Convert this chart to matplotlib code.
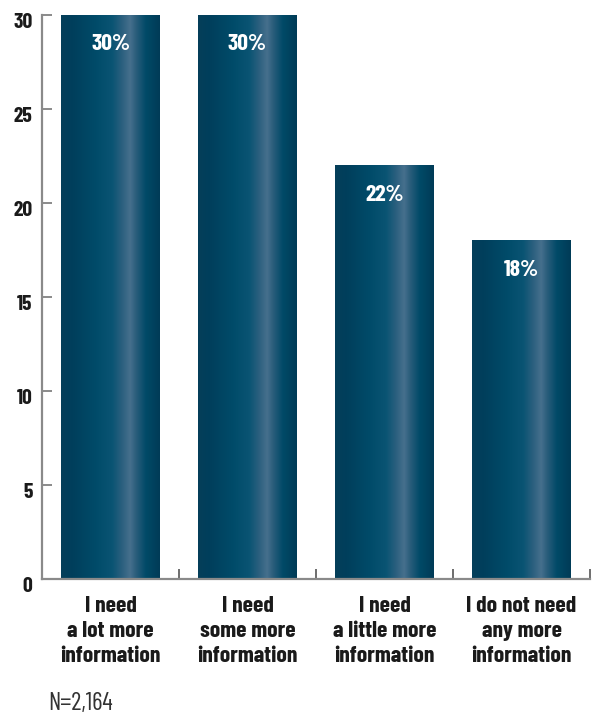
import matplotlib
matplotlib.use("Agg")
import matplotlib.pyplot as plt
import numpy as np
from matplotlib.colors import LinearSegmentedColormap
import matplotlib.transforms as mtransforms

categories = ["I need\na lot more\ninformation",
              "I need\nsome more\ninformation",
              "I need\na little more\ninformation",
              "I do not need\nany more\ninformation"]
values = [30, 30, 22, 18]
yticks = [0, 5, 10, 15, 20, 25, 30]
note = "N=2,164"

FONT = "Barlow Condensed"
plt.rcParams["font.family"] = [FONT, "DejaVu Sans"]

grad = LinearSegmentedColormap.from_list("bar", [
    (0.00, "#053e59"), (0.12, "#003f5c"), (0.35, "#004b69"),
    (0.52, "#0a5473"), (0.62, "#2c607f"), (0.70, "#46708d"),
    (0.76, "#2a5d7b"), (0.86, "#004a67"), (1.00, "#003b57")])

fig = plt.figure(figsize=(5.92, 7.17), dpi=100)
ax = fig.add_axes([42/592, 1 - 579/717, 548/592, (579 - 15)/717])

x = np.arange(len(values))
width = 0.72
row = np.linspace(0, 1, 256)[None, :]
for xi, v in zip(x, values):
    ax.imshow(row, cmap=grad, aspect="auto", interpolation="bilinear",
              extent=(xi - width/2, xi + width/2, 0, v), zorder=2)
    ax.annotate(f"{v}%", (xi, v), xytext=(0, -21), textcoords="offset points",
                ha="center", va="center", color="white", fontsize=17,
                fontweight="bold")

ax.set_xlim(-0.5, len(values) - 0.5)
ax.set_ylim(0, 30)

for s in ["top", "right"]:
    ax.spines[s].set_visible(False)
for s in ["left", "bottom"]:
    ax.spines[s].set_color("#8a8a8a")
    ax.spines[s].set_linewidth(1.6)

ax.set_yticks(yticks)
ax.set_yticklabels([str(t) for t in yticks], fontsize=15.5, fontweight="bold",
                   color="#1a1a1a")
ax.tick_params(axis="y", direction="in", length=7, width=1.4, color="#8a8a8a", pad=7)
off = mtransforms.ScaledTranslation(0, -6/100, fig.dpi_scale_trans)
for lab in ax.get_yticklabels():
    lab.set_transform(lab.get_transform() + off)

ax.set_xticks(x)
ax.set_xticklabels(categories, fontsize=17, fontweight="bold", color="#1a1a1a",
                   linespacing=1.32)
ax.tick_params(axis="x", which="major", length=0, pad=12)
ax.set_xticks(np.arange(len(values)) + 0.5, minor=True)
ax.tick_params(axis="x", which="minor", direction="in", length=7, width=1.2,
               color="#555555")

fig.text(48/592, 1 - 704/717, note, fontsize=18, color="#333333",
         va="center", ha="left", fontweight="normal")

fig.savefig("out.png", dpi=100)
